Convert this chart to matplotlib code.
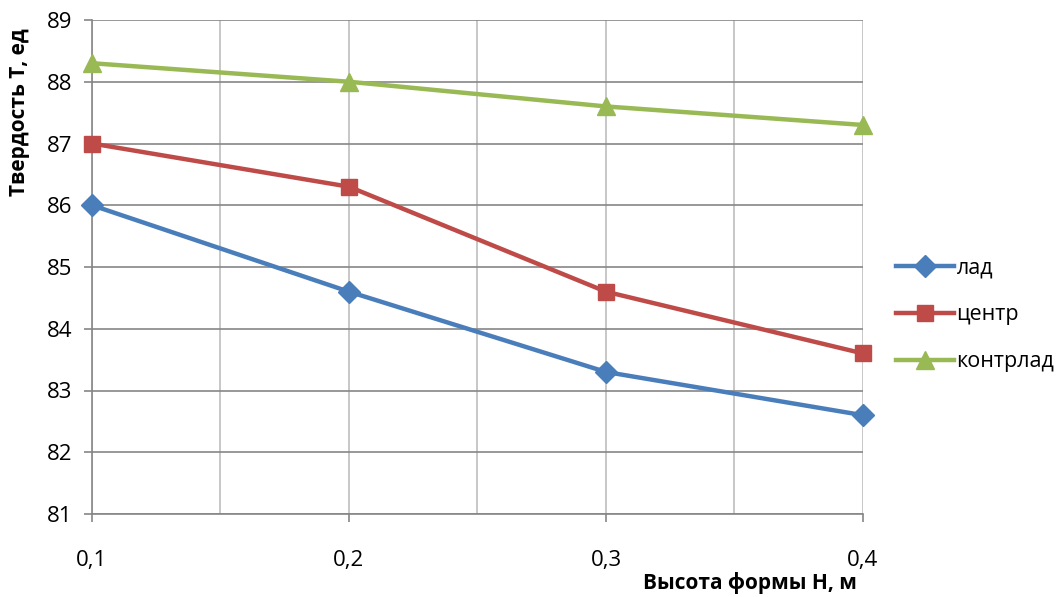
import numpy as np
import matplotlib.pyplot as plt
from matplotlib.ticker import MultipleLocator, FixedLocator

plt.rcParams['font.family'] = ['Open Sans', 'DejaVu Sans']

# Высота формы, м
h = [0.1, 0.2, 0.3, 0.4]
# Твердость по зонам отливки
lad = [86.0, 84.6, 83.3, 82.6]
centr = [87.0, 86.3, 84.6, 83.6]
kontrlad = [88.3, 88.0, 87.6, 87.3]

fig = plt.figure(figsize=(10.64, 5.97), dpi=100)
ax = fig.add_axes([92 / 1064, 1 - 514 / 597, (863 - 92) / 1064, (514 - 20) / 597])

ax.plot(h, lad, color='#4A7EBB', lw=3.2, marker='D', ms=11, label='лад', zorder=3, clip_on=False)
ax.plot(h, centr, color='#BE4B48', lw=3.2, marker='s', ms=12, label='центр', zorder=3, clip_on=False)
ax.plot(h, kontrlad, color='#98B954', lw=3.2, marker='^', ms=13, label='контрлад', zorder=3, clip_on=False)

ax.set_xlim(0.1, 0.4)
ax.set_ylim(81, 89)
ax.xaxis.set_major_locator(FixedLocator([0.1, 0.2, 0.3, 0.4]))
ax.xaxis.set_minor_locator(FixedLocator([0.15, 0.25, 0.35]))
ax.yaxis.set_major_locator(MultipleLocator(1))
ax.set_xticklabels(['0,1', '0,2', '0,3', '0,4'])

ax.grid(True, axis='y', which='major', color='#868686', lw=1.2)
ax.grid(True, axis='x', which='both', color='#BEBEBE', lw=1.2)
ax.set_axisbelow(True)

for s in ['top', 'right']:
    ax.spines[s].set_visible(False)
for s in ['left', 'bottom']:
    ax.spines[s].set_color('#868686')
    ax.spines[s].set_linewidth(1.2)

ax.tick_params(axis='both', which='major', direction='out', length=6, width=1.2,
               color='#868686', labelsize=16)
ax.tick_params(axis='x', which='minor', length=0)
ax.tick_params(axis='x', pad=20)
ax.tick_params(axis='y', pad=8)

fig.text(857 / 1064, 1 - 583 / 597, 'Высота формы Н, м', ha='right', va='center',
         fontsize=15, fontweight='bold')
fig.text(20 / 1064, 1 - 112 / 597, 'Твердость Т, ед', ha='center', va='center',
         rotation=90, fontsize=15, fontweight='bold')

ax.legend(loc='center left', bbox_to_anchor=(1.032, 0.403), frameon=False, fontsize=15.5,
          handlelength=2.7, handletextpad=0.1, labelspacing=1.2, borderaxespad=0)

fig.savefig('out.png', dpi=100)
